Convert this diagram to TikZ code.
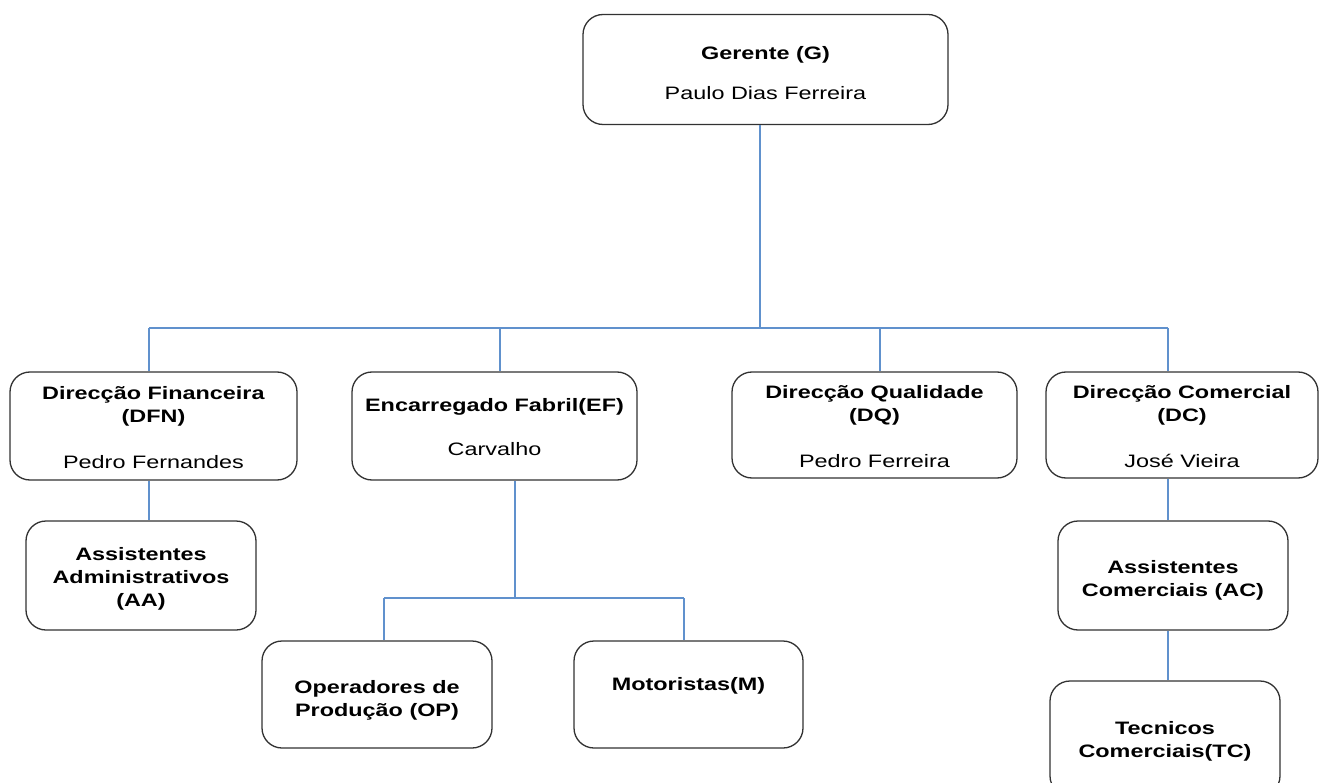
\documentclass[tikz,border=0pt]{standalone}
\usepackage{fontspec}
\setmainfont[FakeStretch=1.3]{Liberation Sans}
\definecolor{linkblue}{RGB}{96,145,205}
\definecolor{boxgray}{RGB}{50,50,50}
\tikzset{
  orgbox/.style={draw=boxgray, line width=1.3pt, rounded corners=20pt, fill=white,
    inner sep=0pt},
  lbl/.style={align=center, inner sep=0pt, font=\fontsize{18}{23}\selectfont},
  link/.style={draw=linkblue, line width=1.4pt}
}
\begin{document}
\begin{tikzpicture}[x=1pt,y=-1pt]
\useasboundingbox (0,0) rectangle (1319,783);
% boxes
\node[orgbox, minimum width=365pt, minimum height=110pt,
  label={[lbl, yshift=-3.5pt]center:{\textbf{Gerente (G)}\\[17pt]Paulo Dias Ferreira}}] (g) at (765.5,69.5) {};
\node[orgbox, minimum width=287pt, minimum height=108pt,
  label={[lbl, yshift=-2pt]center:{\textbf{Direcção Financeira}\\\textbf{(DFN)}\\[23pt]Pedro Fernandes}}] (dfn) at (153.5,426) {};
\node[orgbox, minimum width=285pt, minimum height=108pt,
  label={[lbl, yshift=-1.5pt]center:{\textbf{Encarregado Fabril(EF)}\\[21pt]Carvalho}}] (ef) at (494.5,426) {};
\node[orgbox, minimum width=285pt, minimum height=106pt,
  label={[lbl, yshift=-2pt]center:{\textbf{Direcção Qualidade}\\\textbf{(DQ)}\\[23pt]Pedro Ferreira}}] (dq) at (874.5,425) {};
\node[orgbox, minimum width=272pt, minimum height=106pt,
  label={[lbl, yshift=-2pt]center:{\textbf{Direcção Comercial}\\\textbf{(DC)}\\[23pt]José Vieira}}] (dc) at (1182,425) {};
\node[orgbox, minimum width=230pt, minimum height=109pt,
  label={[lbl, yshift=-3pt]center:{\textbf{Assistentes}\\\textbf{Administrativos}\\\textbf{(AA)}}}] (aa) at (141,575.5) {};
\node[orgbox, minimum width=230pt, minimum height=107pt,
  label={[lbl, yshift=-5.5pt]center:{\textbf{Operadores de}\\\textbf{Produção (OP)}}}] (op) at (377,694.5) {};
\node[orgbox, minimum width=229pt, minimum height=107pt,
  label={[lbl, yshift=9pt]center:{\textbf{Motoristas(M)}}}] (m) at (688.5,694.5) {};
\node[orgbox, minimum width=230pt, minimum height=109pt,
  label={[lbl, yshift=-4.5pt]center:{\textbf{Assistentes}\\\textbf{Comerciais (AC)}}}] (ac) at (1173,575.5) {};
\node[orgbox, minimum width=230pt, minimum height=115pt,
  label={[lbl, yshift=-3pt]center:{\textbf{Tecnicos}\\\textbf{Comerciais(TC)}}}] (tc) at (1165,738.5) {};
% bus points
\coordinate (bg) at (760,328);
\coordinate (b1) at (149,328);
\coordinate (b2) at (500,328);
\coordinate (b3) at (880,328);
\coordinate (b4) at (1168,328);
\coordinate (be) at (515,598);
\coordinate (s1) at (384,598);
\coordinate (s2) at (684,598);
% connectors
\draw[link] (g.south -| bg) -- (bg);
\draw[link] (b1) -- (b4);
\draw[link] (b1) -- (b1 |- dfn.north);
\draw[link] (b2) -- (b2 |- ef.north);
\draw[link] (b3) -- (b3 |- dq.north);
\draw[link] (b4) -- (b4 |- dc.north);
\draw[link] (dfn.south -| b1) -- (aa.north -| b1);
\draw[link] (ef.south -| be) -- (be);
\draw[link] (s1) -- (s2);
\draw[link] (s1) -- (s1 |- op.north);
\draw[link] (s2) -- (s2 |- m.north);
\draw[link] (dc.south -| b4) -- (ac.north -| b4);
\draw[link] (ac.south -| b4) -- (tc.north -| b4);
\end{tikzpicture}
\end{document}
